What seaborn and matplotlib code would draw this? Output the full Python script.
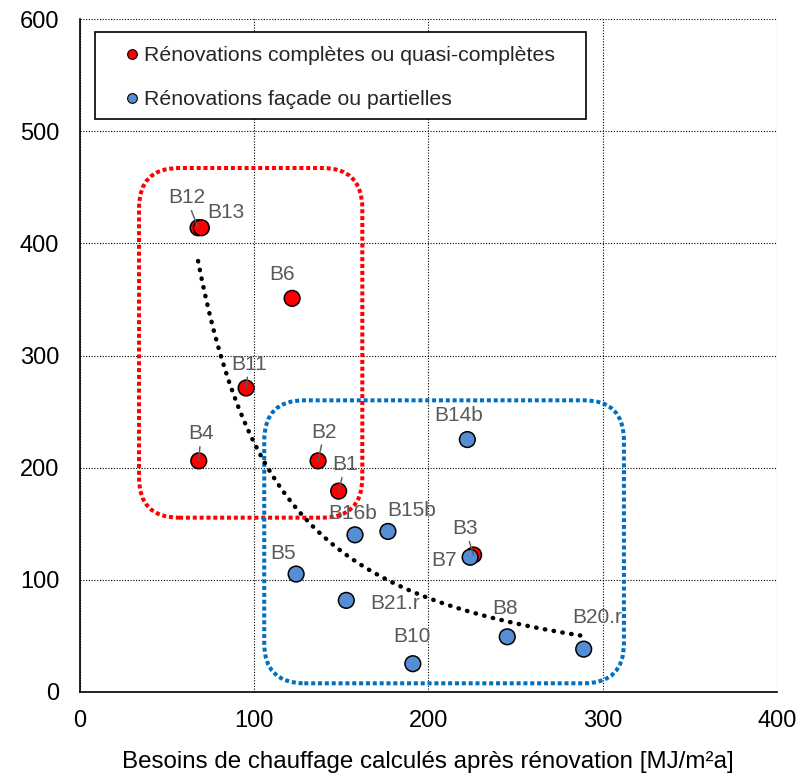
import numpy as np
import pandas as pd
import seaborn as sns
import matplotlib.pyplot as plt
from matplotlib.patches import FancyBboxPatch, Rectangle
from matplotlib.lines import Line2D

# Values
red_names = ["B12", "B13", "B6", "B11", "B4", "B2", "B1", "B3"]
red_x = [67.8, 69.7, 121.8, 95.4, 68.2, 136.7, 148.5, 226.0]
red_y = [414, 414, 351, 271, 206, 206, 179, 122]

blue_names = ["B14b", "B16b", "B15b", "B7", "B5", "B21.r", "B10", "B8", "B20.r"]
blue_x = [222.4, 157.9, 176.8, 224.0, 124.1, 152.9, 191.1, 245.3, 289.2]
blue_y = [225, 140, 143, 120, 105, 81.5, 25, 49, 38]

red_label = "Rénovations complètes ou quasi-complètes"
blue_label = "Rénovations façade ou partielles"
x_title = "Besoins de chauffage calculés après rénovation [MJ/m²a]"

# Power trendline y = a * x^b (coefficients)
trend_a = 1.468e5
trend_b = -1.41

# label offsets in pixels (dx, dy) and which labels have a leader line
label_offsets = {
    "B12": (-11.6, 29.9), "B13": (25, 15.2), "B6": (-10.5, 23.9),
    "B11": (2.7, 23.6), "B4": (2.2, 27), "B2": (6.2, 28.7),
    "B1": (6.6, 26.5), "B3": (-8.4, 26.2), "B14b": (-8.6, 24.5),
    "B16b": (-2.7, 21.2), "B15b": (24, 21.3), "B7": (-26.3, -3.5),
    "B5": (-12.9, 20.7), "B21.r": (49, -2.8), "B10": (-1.3, 27.5),
    "B8": (-2.5, 28.7), "B20.r": (13.5, 31.8),
}
leaders = {"B12", "B11", "B4", "B2", "B1", "B3"}

RED = "#FF0000"
BLUE = "#558ED5"
BOX_BLUE = "#0070C0"
GREY = "#595959"

df = pd.DataFrame({
    "name": red_names + blue_names,
    "x": red_x + blue_x,
    "y": red_y + blue_y,
    "group": [red_label] * len(red_names) + [blue_label] * len(blue_names),
})

sns.set_theme(style="white")
plt.rcParams["font.family"] = ["Liberation Sans", "DejaVu Sans"]

fig = plt.figure(figsize=(8.11, 7.78), dpi=100)
ax = fig.add_axes([0.0986, 0.1109, 0.8591, 0.8643])

ax.set_xlim(0, 400)
ax.set_ylim(0, 600)
ax.set_xticks([0, 100, 200, 300, 400])
ax.set_yticks([0, 100, 200, 300, 400, 500, 600])
ax.grid(True, color="black", linestyle=(0, (1, 1.5)), linewidth=0.8)
ax.set_axisbelow(True)

# rounded dotted boxes (data coords), aspect keeps the corners round on screen
aspect = (600 / 672.4) / (400 / 696.7)
for (x0, y0, x1, y1), col in [((33.9, 155.3, 162.1, 467.3), RED),
                              ((105.8, 7.5, 312.3, 260.0), BOX_BLUE)]:
    box = FancyBboxPatch((x0, y0), x1 - x0, y1 - y0,
                         boxstyle="round,pad=0,rounding_size=23",
                         mutation_aspect=aspect, fill=False,
                         edgecolor=col, linewidth=2.9,
                         linestyle=(0, (1, 0.7)), zorder=2)
    ax.add_patch(box)

# trendline
tx = np.linspace(df["x"].min(), df["x"].max(), 200)
ax.plot(tx, trend_a * tx ** trend_b, color="black", linewidth=3.2,
        linestyle=(0, (0.1, 1.9)), dash_capstyle="round", zorder=2.5)

sns.scatterplot(data=df, x="x", y="y", hue="group",
                palette={red_label: RED, blue_label: BLUE},
                s=128, edgecolor="black", linewidth=1.1, legend=False,
                ax=ax, zorder=3)

for _, row in df.iterrows():
    dx, dy = label_offsets[row["name"]]
    props = None
    if row["name"] in leaders:
        props = dict(arrowstyle="-", color=GREY, lw=1, shrinkA=0, shrinkB=0)
    ax.annotate(row["name"], (row["x"], row["y"]), xytext=(dx, dy),
                textcoords="offset pixels", ha="center", va="center",
                fontsize=15, color=GREY, arrowprops=props, zorder=4)

# legend with its own box
ax.add_patch(Rectangle((0.0215, 0.851), 0.705, 0.1306, transform=ax.transAxes,
                       facecolor="white", edgecolor="black", linewidth=1.2,
                       zorder=5))
handles = [
    Line2D([], [], marker="o", linestyle="none", markersize=7,
           markerfacecolor=RED, markeredgecolor="black", markeredgewidth=0.8),
    Line2D([], [], marker="o", linestyle="none", markersize=7,
           markerfacecolor=BLUE, markeredgecolor="black", markeredgewidth=0.8),
]
leg = ax.legend(handles, [red_label, blue_label], loc="upper left",
                bbox_to_anchor=(0.0672, 0.9603), frameon=False, fontsize=15.3,
                handlelength=0.5, handletextpad=0.3, borderpad=0,
                borderaxespad=0, labelspacing=1.2)
leg.set_zorder(6)

for side in ["top", "right"]:
    ax.spines[side].set_visible(False)
for side in ["left", "bottom"]:
    ax.spines[side].set_color("black")
    ax.spines[side].set_linewidth(1.2)

ax.tick_params(axis="both", length=0, labelsize=17, colors="black")
ax.tick_params(axis="y", pad=15)
ax.tick_params(axis="x", pad=13)
ax.set_xlabel(x_title, fontsize=17.4, labelpad=14, color="black")
ax.set_ylabel("")

fig.savefig("out.png", dpi=100)
